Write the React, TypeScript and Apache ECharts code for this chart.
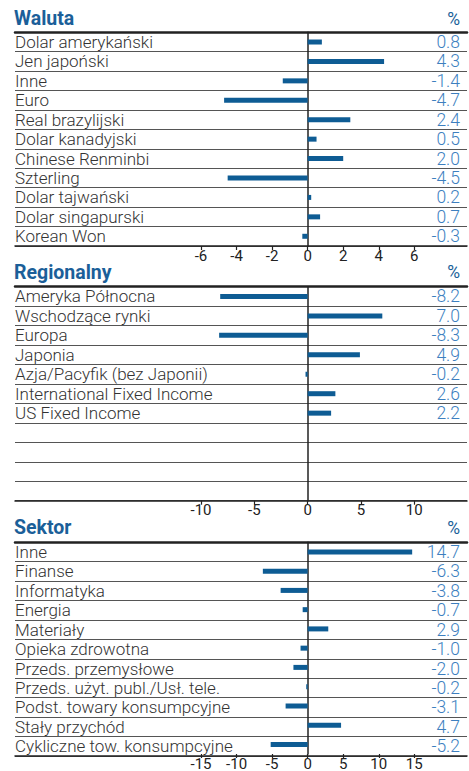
import React, { useEffect, useRef } from "react";
import * as echarts from "echarts";

const walutaCats = ["Dolar amerykański", "Jen japoński", "Inne", "Euro", "Real brazylijski", "Dolar kanadyjski", "Chinese Renminbi", "Szterling", "Dolar tajwański", "Dolar singapurski", "Korean Won"];
const walutaVals: (number | null)[] = [0.8, 4.3, -1.4, -4.7, 2.4, 0.5, 2.0, -4.5, 0.2, 0.7, -0.3];

const regionCats = ["Ameryka Północna", "Wschodzące rynki", "Europa", "Japonia", "Azja/Pacyfik (bez Japonii)", "International Fixed Income", "US Fixed Income", "", "", "", ""];
const regionVals: (number | null)[] = [-8.2, 7.0, -8.3, 4.9, -0.2, 2.6, 2.2, null, null, null, null];

const sektorCats = ["Inne", "Finanse", "Informatyka", "Energia", "Materiały", "Opieka zdrowotna", "Przeds. przemysłowe", "Przeds. użyt. publ./Usł. tele.", "Podst. towary konsumpcyjne", "Stały przychód", "Cykliczne tow. konsumpcyjne"];
const sektorVals: (number | null)[] = [14.7, -6.3, -3.8, -0.7, 2.9, -1.0, -2.0, -0.2, -3.1, 4.7, -5.2];

const panelTitles = ["Waluta", "Regionalny", "Sektor"];
const axisMax = [6, 10, 15];
const axisInterval = [2, 5, 5];

const FONT = "Roboto";
const BAR = "#0e5c94";
const VAL = "#3d7fbf";
const TITLE = "#1b5f99";
const TEXT = "#333333";

export default function App() {
  const ref = useRef<HTMLDivElement>(null);
  useEffect(() => {
    document.body.style.margin = "0";
    if (!ref.current) return;
    const chart = echarts.init(ref.current, undefined, { renderer: "svg" });
    const panels = [
      { cats: walutaCats, vals: walutaVals, top: 32.3, height: 213.7, titleY: 20.5 },
      { cats: regionCats, vals: regionVals, top: 286.7, height: 214, titleY: 274 },
      { cats: sektorCats, vals: sektorVals, top: 542.3, height: 213.7, titleY: 529.5 },
    ];
    const grid: any[] = [];
    const xAxis: any[] = [];
    const yAxis: any[] = [];
    const series: any[] = [];
    const graphic: any[] = [];
    panels.forEach((p, i) => {
      grid.push({ left: 15, right: 2, top: p.top, height: p.height });
      grid.push({ left: 201, right: 54.7, top: p.top, height: p.height });
      xAxis.push({
        gridIndex: 2 * i, type: "value", min: 0, max: 1, position: "bottom",
        axisLine: { show: true, lineStyle: { color: "#222", width: 1.5 } },
        axisTick: { show: false }, axisLabel: { show: false }, splitLine: { show: false },
      });
      xAxis.push({
        gridIndex: 2 * i, type: "value", min: 0, max: 1, position: "top",
        axisLine: { show: true, lineStyle: { color: "#222", width: 2.5 } },
        axisTick: { show: false }, axisLabel: { show: false }, splitLine: { show: false },
      });
      xAxis.push({
        gridIndex: 2 * i + 1, type: "value", min: -axisMax[i], max: axisMax[i], interval: axisInterval[i],
        axisLine: { show: false },
        axisTick: { show: true, length: 4, lineStyle: { color: "#222", width: 1.2 } },
        axisLabel: { fontSize: 15, lineHeight: 15, color: "#222", margin: 2, fontFamily: FONT },
        splitLine: { show: false },
      });
      yAxis.push({
        gridIndex: 2 * i, type: "category", data: p.cats, inverse: true,
        axisLine: { show: false }, axisTick: { show: false, interval: 0 },
        splitLine: { show: true, interval: 0, lineStyle: { color: "#555", width: 1 } },
        axisLabel: { inside: true, margin: 0, interval: 0, fontSize: 17, lineHeight: 16, color: TEXT, fontWeight: 300, fontFamily: FONT, padding: [1, 0, 0, 0] },
      });
      yAxis.push({
        gridIndex: 2 * i, type: "category", position: "right", inverse: true,
        data: p.vals.map((v) => (v === null ? "" : v.toFixed(1))),
        axisLine: { show: false }, axisTick: { show: false }, splitLine: { show: false },
        axisLabel: { inside: true, margin: 7, interval: 0, fontSize: 17.5, lineHeight: 16, color: VAL, fontWeight: 300, fontFamily: FONT, padding: [1, 0, 0, 0] },
      });
      yAxis.push({
        gridIndex: 2 * i + 1, type: "category", data: p.cats, inverse: true,
        axisLine: { show: true, onZero: true, lineStyle: { color: "#222", width: 1.5 } },
        axisTick: { show: false }, axisLabel: { show: false }, splitLine: { show: false },
      });
      series.push({
        type: "bar", xAxisIndex: 3 * i + 2, yAxisIndex: 3 * i + 2, data: p.vals,
        barWidth: 5, itemStyle: { color: BAR }, silent: true,
      });
      graphic.push({
        type: "text", left: 14, top: p.titleY - 12,
        style: { text: panelTitles[i], fontSize: 19.5, fontWeight: "bold", fill: TITLE, fontFamily: FONT },
      });
      graphic.push({
        type: "text", right: 9, top: p.titleY - 11,
        style: { text: "%", fontSize: 17.5, fontWeight: "normal", fill: TITLE, fontFamily: FONT },
      });
    });
    chart.setOption({
      animation: false,
      backgroundColor: "#ffffff",
      grid, xAxis, yAxis, series, graphic,
    });
    return () => chart.dispose();
  }, []);
  return <div ref={ref} style={{ width: 469, height: 771 }} />;
}
